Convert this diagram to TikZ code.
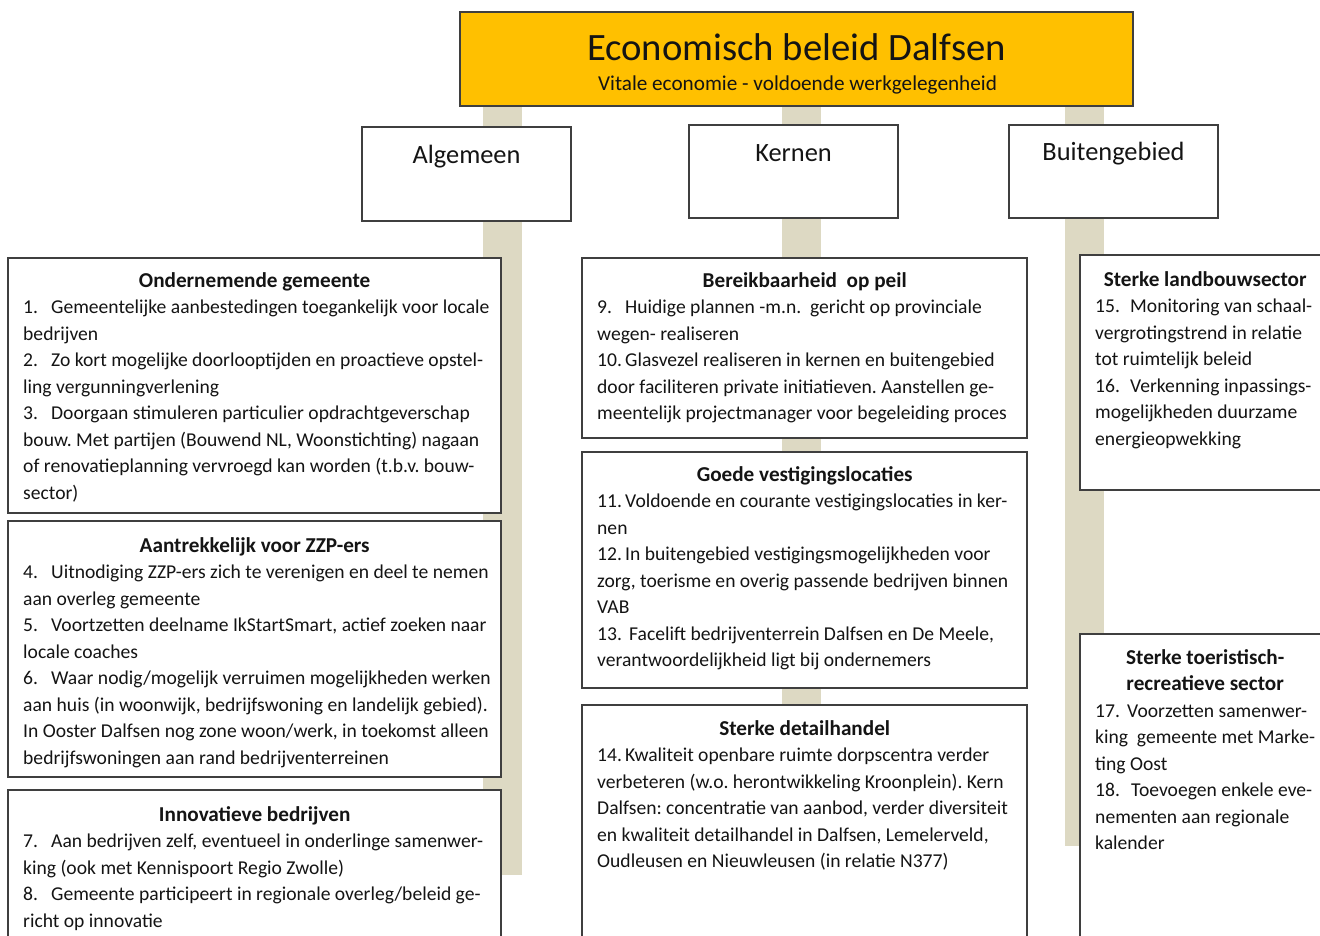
\documentclass[tikz,border=0pt]{standalone}
\usepackage{fontspec}
\setmainfont{Carlito}
\usetikzlibrary{backgrounds}
\definecolor{gold}{HTML}{FFC000}
\definecolor{tanbar}{HTML}{DDD9C3}
\definecolor{edge}{HTML}{3F3F3F}
\definecolor{ink}{HTML}{141414}
\newcommand\nr[1]{\makebox[28pt][l]{#1}}
\newcommand\nrr[2]{\makebox[#1][l]{#2}}
\newcommand\hd[2]{\makebox[#1][c]{\fontsize{21.2}{26.5}\selectfont\bfseries #2}}
\frenchspacing
\begin{document}
\frenchspacing
\begin{tikzpicture}[x=1pt,y=-1pt,
  frame/.style={draw=edge, line width=1.5pt, fill=white, inner sep=0pt, outer sep=0pt, anchor=north west},
  titlebox/.style={frame, fill=gold},
  bar/.style={draw=tanbar, line width=39pt},
  txt/.style={anchor=north west, inner sep=0pt, text=ink, align=left, font=\fontsize{19.6}{26.5}\selectfont\frenchspacing},
  head/.style={inner sep=0pt, text=ink, font=\fontsize{26.4}{30}\selectfont}]
\clip (0,0) rectangle (1320,935);
% title
\node[titlebox, minimum width=673pt, minimum height=94pt] (title) at (460,12) {};
\node[inner sep=0pt, text=ink, font=\fontsize{38.7}{42}\selectfont] (ttl) at (796.5,47) {Economisch beleid Dalfsen};
\node[inner sep=0pt, text=ink, font=\fontsize{21.2}{24}\selectfont] (sub) at (797.5,85) {Vitale economie - voldoende werkgelegenheid};
% bar ends
\coordinate (lbar) at (502.5,875);
\coordinate (mbar) at (801,875);
\coordinate (rbar) at (1084.5,846);
\begin{pgfonlayer}{background}
\fill[white] (0,0) rectangle (1320,935);
\draw[bar] (title.south -| lbar) -- (lbar);
\draw[bar] (title.south -| mbar) -- (mbar);
\draw[bar] (title.south -| rbar) -- (rbar);
\end{pgfonlayer}
% header boxes
\node[frame, minimum width=209pt, minimum height=94pt] (alg) at (362,127) {};
\node[head] (algT) at (466.5,156.5) {Algemeen};
\node[frame, minimum width=209pt, minimum height=93pt] (ker) at (689,125) {};
\node[head] (kerT) at (793.5,153.5) {Kernen};
\node[frame, minimum width=209pt, minimum height=93pt] (bui) at (1009,125) {};
\node[head] (buiT) at (1113.5,153.5) {Buitengebied};
% left column
\node[frame, minimum width=493pt, minimum height=255pt] (l1) at (8,258) {};
\node[txt] (l1T) at (23,272) {\hd{463pt}{Ondernemende gemeente}\\
\nr{1.}Gemeentelijke aanbestedingen toegankelijk voor locale\\
bedrijven\\
\nr{2.}Zo kort mogelijke doorlooptijden en proactieve opstel-\\
ling vergunningverlening\\
\nr{3.}Doorgaan stimuleren particulier opdrachtgeverschap\\
bouw. Met partijen (Bouwend NL, Woonstichting) nagaan\\
of renovatieplanning vervroegd kan worden (t.b.v. bouw-\\
sector)};
\node[frame, minimum width=493pt, minimum height=256pt] (l2) at (8,521) {};
\node[txt] (l2T) at (23,537) {\hd{463pt}{Aantrekkelijk voor ZZP-ers}\\
\nr{4.}Uitnodiging ZZP-ers zich te verenigen en deel te nemen\\
aan overleg gemeente\\
\nr{5.}Voortzetten deelname IkStartSmart, actief zoeken naar\\
locale coaches\\
\nr{6.}Waar nodig/mogelijk verruimen mogelijkheden werken\\
aan huis (in woonwijk, bedrijfswoning en landelijk gebied).\\
In Ooster Dalfsen nog zone woon/werk, in toekomst alleen\\
bedrijfswoningen aan rand bedrijventerreinen};
\node[frame, minimum width=493pt, minimum height=170pt] (l3) at (8,790) {};
\node[txt] (l3T) at (23,806) {\hd{463pt}{Innovatieve bedrijven}\\
\nr{7.}Aan bedrijven zelf, eventueel in onderlinge samenwer-\\
king (ook met Kennispoort Regio Zwolle)\\
\nr{8.}Gemeente participeert in regionale overleg/beleid ge-\\
richt op innovatie};
% middle column
\node[frame, minimum width=445pt, minimum height=180pt] (m1) at (582,258) {};
\node[txt] (m1T) at (597,272) {\hd{415pt}{Bereikbaarheid\ \ op peil}\\
\nr{9.}Huidige plannen -m.n.\ \ gericht op provinciale\\
wegen- realiseren\\
\nr{10.}Glasvezel realiseren in kernen en buitengebied\\
door faciliteren private initiatieven. Aanstellen ge-\\
meentelijk projectmanager voor begeleiding proces};
\node[frame, minimum width=445pt, minimum height=236pt] (m2) at (582,452) {};
\node[txt] (m2T) at (597,466) {\hd{415pt}{Goede vestigingslocaties}\\
\nr{11.}Voldoende en courante vestigingslocaties in ker-\\
nen\\
\nr{12.}In buitengebied vestigingsmogelijkheden voor\\
zorg, toerisme en overig passende bedrijven binnen\\
VAB\\
\nrr{32pt}{13.}Facelift bedrijventerrein Dalfsen en De Meele,\\
verantwoordelijkheid ligt bij ondernemers};
\node[frame, minimum width=445pt, minimum height=250pt] (m3) at (582,705) {};
\node[txt] (m3T) at (597,720) {\hd{415pt}{Sterke detailhandel}\\
\nr{14.}Kwaliteit openbare ruimte dorpscentra verder\\
verbeteren (w.o. herontwikkeling Kroonplein). Kern\\
Dalfsen: concentratie van aanbod, verder diversiteit\\
en kwaliteit detailhandel in Dalfsen, Lemelerveld,\\
Oudleusen en Nieuwleusen (in relatie N377)};
% right column
\node[frame, minimum width=250pt, minimum height=235pt] (r1) at (1080,255) {};
\node[txt] (r1T) at (1095,271) {\hd{220pt}{Sterke landbouwsector}\\
\nrr{35pt}{15.}Monitoring van schaal-\\
vergrotingstrend in relatie\\
tot ruimtelijk beleid\\
\nrr{35pt}{16.}Verkenning inpassings-\\
mogelijkheden duurzame\\
energieopwekking};
\node[frame, minimum width=250pt, minimum height=320pt] (r2) at (1080,634) {};
\node[txt] (r2T) at (1095,649) {\hd{220pt}{Sterke toeristisch-}\\
\hd{220pt}{recreatieve sector}\\
\nrr{32pt}{17.}Voorzetten samenwer-\\
king\ \ gemeente met Marke-\\
ting Oost\\
\nrr{36pt}{18.}Toevoegen enkele eve-\\
nementen aan regionale\\
kalender};
\end{tikzpicture}
\end{document}
